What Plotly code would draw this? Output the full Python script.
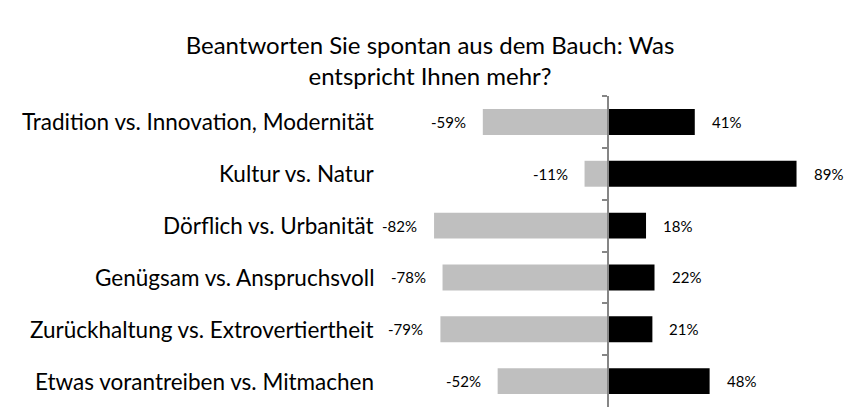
import plotly.graph_objects as go

categories = [
    "Tradition vs. Innovation, Modernität",
    "Kultur vs. Natur",
    "Dörflich vs. Urbanität",
    "Genügsam vs. Anspruchsvoll",
    "Zurückhaltung vs. Extrovertiertheit",
    "Etwas vorantreiben vs. Mitmachen",
]
left_values = [-59, -11, -82, -78, -79, -52]
right_values = [41, 89, 18, 22, 21, 48]
title_text = "Beantworten Sie spontan aus dem Bauch: Was<br>entspricht Ihnen mehr?"

FONT = "Lato"
W, H = 858, 407
ML, MR, MT, MB = 380, 0, 96, 0
x_range = [-107.5, 118]
zero_pos = (0 - x_range[0]) / (x_range[1] - x_range[0])

fig = go.Figure()
fig.add_trace(go.Bar(y=categories, x=left_values, orientation="h",
                     marker=dict(color="#BFBFBF", line=dict(width=0)), width=0.5,
                     hoverinfo="x+y", showlegend=False))
fig.add_trace(go.Bar(y=categories, x=right_values, orientation="h",
                     marker=dict(color="#000000", line=dict(width=0)), width=0.5,
                     hoverinfo="x+y", showlegend=False))

annotations = []
for c, v in zip(categories, left_values):
    annotations.append(dict(x=v, y=c, xref="x", yref="y", text=f"{v}%", showarrow=False,
                            xanchor="right", xshift=-15,
                            font=dict(family=FONT, size=15, color="#000000")))
for c, v in zip(categories, right_values):
    annotations.append(dict(x=v, y=c, xref="x", yref="y", text=f"{v}%", showarrow=False,
                            xanchor="left", xshift=15,
                            font=dict(family=FONT, size=15, color="#000000")))
plot_w = W - ML - MR
for c in categories:
    annotations.append(dict(x=(376 - ML) / plot_w, y=c, xref="paper", yref="y", text=c,
                            showarrow=False, xanchor="right",
                            font=dict(family=FONT, size=22.5, color="#000000")))

fig.update_layout(
    width=W, height=H,
    margin=dict(l=ML, r=MR, t=MT, b=MB),
    paper_bgcolor="white", plot_bgcolor="white",
    barmode="relative", bargap=0.5,
    title=dict(text=title_text, x=430 / W, xref="container", xanchor="center",
               y=1 - 54 / H, yref="container", yanchor="top",
               font=dict(family=FONT, size=24, color="#000000")),
    xaxis=dict(range=x_range, visible=False, fixedrange=True),
    yaxis=dict(categoryorder="array", categoryarray=categories, autorange="reversed",
               showticklabels=False, showgrid=False, zeroline=False,
               showline=True, linecolor="#868686", linewidth=1.5,
               ticks="outside", ticklen=5, tickcolor="#868686", tickwidth=1.5,
               tickson="boundaries", anchor="free", position=zero_pos, fixedrange=True),
    annotations=annotations,
    font=dict(family=FONT),
)

fig.write_html("out.html", config={"displayModeBar": False},
               post_script="document.body.style.margin='0';")
